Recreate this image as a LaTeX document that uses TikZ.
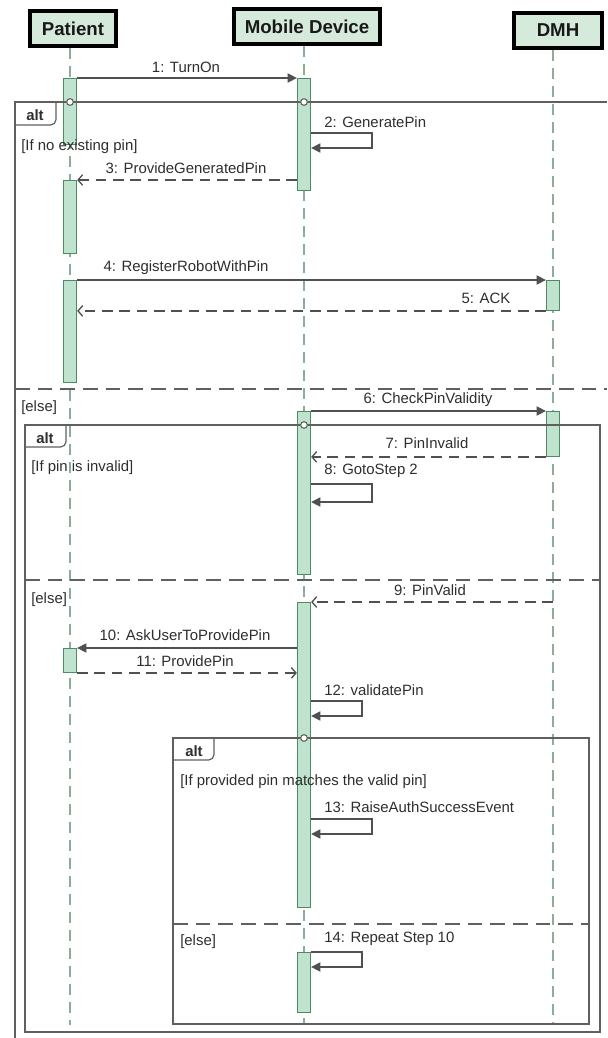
\documentclass[tikz,border=0pt]{standalone}
\usepackage{fontspec}
\setmainfont{Liberation Sans}
\usetikzlibrary{arrows.meta}
\definecolor{headfill}{HTML}{D6EADB}
\definecolor{actfill}{HTML}{BFE3CF}
\definecolor{actline}{HTML}{4E8A62}
\definecolor{lifec}{HTML}{8CAE97}
\definecolor{framec}{HTML}{606060}
\definecolor{msgc}{HTML}{505050}
\definecolor{txtc}{HTML}{2E2E2E}
\begin{document}
\begin{tikzpicture}[x=0.75pt,y=-0.75pt,
  head/.style={draw=black, line width=3pt, fill=headfill, inner sep=0pt,
    font=\fontsize{14}{16}\selectfont\bfseries, text=black!90},
  life/.style={draw=lifec, line width=1.5pt, dash pattern=on 8.5pt off 5pt},
  bar/.style={draw=actline, fill=actfill, line width=0.7pt, minimum width=10pt,
    inner sep=0pt, anchor=north},
  msg/.style={draw=msgc, line width=1pt, -{Triangle[length=7pt,width=7pt]}},
  ret/.style={draw=msgc, line width=1pt, dash pattern=on 8pt off 5pt,
    -{Straight Barb[length=3.5pt,width=8pt]}},
  lab/.style={font=\fontsize{11.2}{13}\selectfont, text=txtc, inner sep=0pt},
  frame/.style={draw=framec, line width=0.9pt},
  sep/.style={draw=framec, line width=0.9pt, dash pattern=on 11pt off 6pt},
  tabtxt/.style={font=\fontsize{11.2}{13}\selectfont\bfseries, text=txtc, inner sep=0pt},
  guard/.style={font=\fontsize{11.2}{13}\selectfont, text=txtc, inner sep=0pt, anchor=west},
  gate/.style={circle, draw=framec, fill=white, line width=0.8pt, minimum size=5pt, inner sep=0pt}
]
\useasboundingbox (0,0) rectangle (607,1038);

% headers
\node[head, minimum width=64.5pt, minimum height=26.25pt] (patient) at (73,28.5) {Patient};
\node[head, minimum width=109.5pt, minimum height=26.25pt] (mobile) at (307,26.5) {Mobile Device};
\node[head, minimum width=66pt, minimum height=26.25pt] (dmh) at (558,30.5) {DMH};

% lifeline ends
\coordinate (pend) at (70,1025);
\coordinate (mend) at (304,1025);
\coordinate (dend) at (553,1025);
\draw[life] (patient.south -| pend) -- (pend);
\draw[life] (mobile.south -| mend) -- (mend);
\draw[life] (dmh.south -| dend) -- (dend);

% activation bars
\node[bar, minimum height=49.5pt] (p1) at (70,78) {};
\node[bar, minimum height=84pt] (m1) at (304,78) {};
\node[bar, minimum height=54.75pt] (p2) at (70,180) {};
\node[bar, minimum height=76.5pt] (p3) at (70,280) {};
\node[bar, minimum height=22.5pt] (d1) at (553,280) {};
\node[bar, minimum height=122.25pt] (m2) at (304,411) {};
\node[bar, minimum height=33.75pt] (d2) at (553,411) {};
\node[bar, minimum height=228.75pt] (m3) at (304,602) {};
\node[bar, minimum height=18pt] (p4) at (70,648) {};
\node[bar, minimum height=45pt] (m4) at (304,952) {};

% outer alt frame
\draw[frame] (607,102) -- (15,102) -- (15,1038);
\draw[frame, rounded corners=4pt] (15,125) -- (56,125) -- (56,102);
\node[tabtxt] (alt1) at (35,115) {alt};
\node[gate] (g1) at (70,102) {};
\node[gate] (g2) at (304,102) {};
\node[guard] (gd1) at (21,147) {[If no existing pin]};
\draw[sep] (15,389) -- (607,389);
\node[guard] (gd2) at (21,408) {[else]};

% inner alt frame
\draw[frame] (25,425) rectangle (600,1032);
\draw[frame, rounded corners=4pt] (25,447) -- (66,447) -- (66,425);
\node[tabtxt] (alt2) at (45,438) {alt};
\node[gate] (g3) at (304,425) {};
\node[guard] (gd3) at (31,468) {[If pin is invalid]};
\draw[sep] (25,580) -- (600,580);
\node[guard] (gd4) at (31,600) {[else]};

% innermost alt frame
\draw[frame] (173,738) rectangle (589,1024);
\draw[frame, rounded corners=4pt] (173,760) -- (214,760) -- (214,738);
\node[tabtxt] (alt3) at (194,751) {alt};
\node[gate] (g4) at (304,738) {};
\node[guard] (gd5) at (180,782) {[If provided pin matches the valid pin]};
\draw[sep] (173,924) -- (589,924);
\node[guard] (gd6) at (180,942) {[else]};

% messages
\draw[msg] (p1.north east) -- (m1.north west);
\node[lab] (l1) at (186,67) {1: TurnOn};

\draw[msg] (m1.east |- 0,133) -- ++(61,0) -- ++(0,15) -- (m1.east |- 0,148);
\node[lab, anchor=west] (l2) at (324,122) {2: GeneratePin};

\draw[ret] (m1.west |- p2.north) -- (p2.north east);
\node[lab] (l3) at (186,168) {3: ProvideGeneratedPin};

\draw[msg] (p3.north east) -- (d1.north west);
\node[lab] (l4) at (186,268) {4: RegisterRobotWithPin};

\draw[ret] (d1.south west) -- (p3.east |- d1.south);
\node[lab] (l5) at (486,298) {5: ACK};

\draw[msg] (m2.north east) -- (d2.north west);
\node[lab] (l6) at (428,400) {6: CheckPinValidity};

\draw[ret] (d2.south west) -- (m2.east |- d2.south);
\node[lab] (l7) at (427,443) {7: PinInvalid};

\draw[msg] (m2.east |- 0,484) -- ++(61,0) -- ++(0,18) -- (m2.east |- 0,502);
\node[lab, anchor=west] (l8) at (324,471) {8: GotoStep 2};

\draw[ret] (m3.north -| dend) -- (m3.north east);
\node[lab] (l9) at (430,590) {9: PinValid};

\draw[msg] (m3.west |- p4.north) -- (p4.north east);
\node[lab] (l10) at (185,635) {10: AskUserToProvidePin};

\draw[ret] (p4.south east) -- (m3.west |- p4.south);
\node[lab] (l11) at (185,661) {11: ProvidePin};

\draw[msg] (m3.east |- 0,701) -- ++(51,0) -- ++(0,15) -- (m3.east |- 0,716);
\node[lab, anchor=west] (l12) at (324,690) {12: validatePin};

\draw[msg] (m3.east |- 0,819) -- ++(61,0) -- ++(0,15) -- (m3.east |- 0,834);
\node[lab, anchor=west] (l13) at (324,807) {13: RaiseAuthSuccessEvent};

\draw[msg] (m4.north east) -- ++(51,0) -- ++(0,15) -- (m4.east |- 0,967);
\node[lab, anchor=west] (l14) at (324,939) {14: Repeat Step 10};

\end{tikzpicture}
\end{document}
